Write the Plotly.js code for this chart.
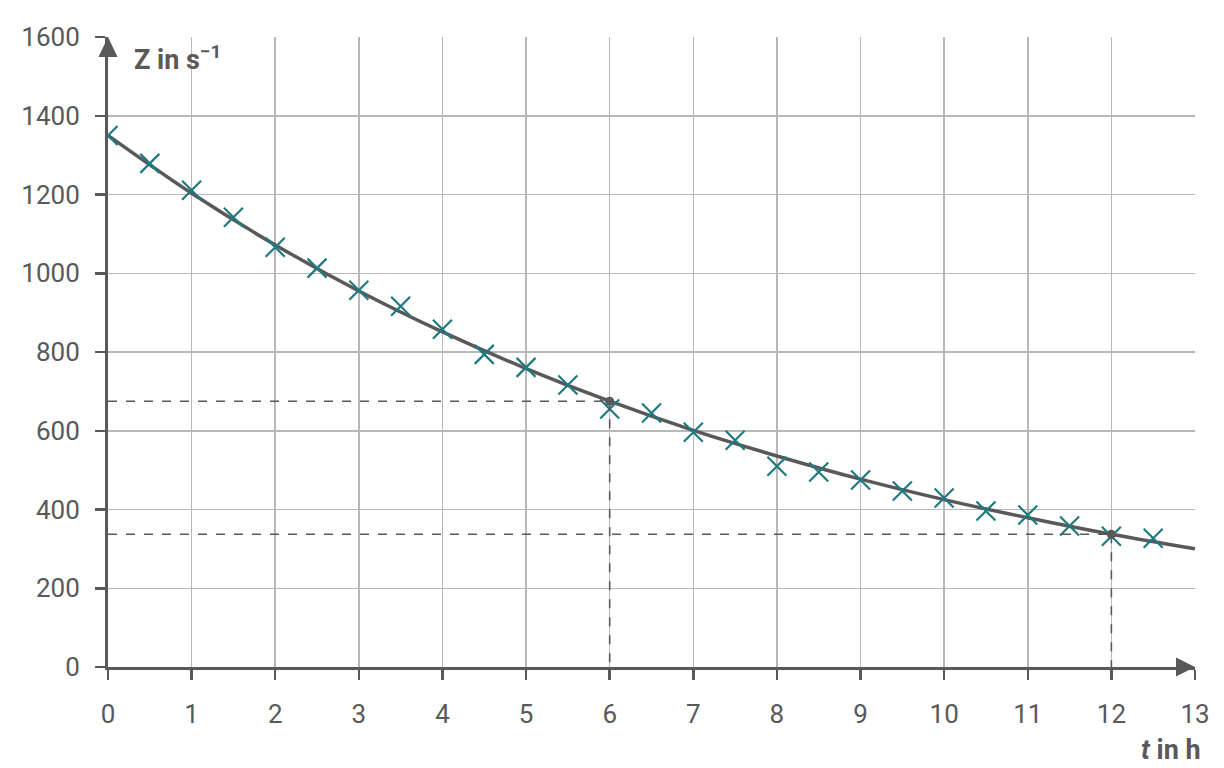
<!DOCTYPE html>
<html>
<head>
<meta charset="utf-8">
<script src="https://cdn.plot.ly/plotly-3.0.1.min.js"></script>
<style>
  html, body { margin: 0; padding: 0; background: #fff; }
  #chart { width: 1224px; height: 768px; }
</style>
</head>
<body>
<div id="chart"></div>
<script>
"use strict";

// measured counts (crosses)
const tMeas = [0, 0.5, 1, 1.5, 2, 2.5, 3, 3.5, 4, 4.5, 5, 5.5, 6, 6.5, 7, 7.5, 8, 8.5, 9, 9.5, 10, 10.5, 11, 11.5, 12, 12.5];
const zMeas = [1350, 1279, 1211, 1142, 1066, 1013, 957, 916, 858, 794, 761, 716, 655, 645, 596, 576, 510, 495, 475, 447, 429, 396, 386, 358, 332, 327];

const tCurve = [0, 1, 2, 3, 4, 5, 6, 7, 8, 9, 10, 11, 12, 13];
const zCurve = [1350, 1203, 1072, 955, 851, 758, 675, 601, 536, 477, 425, 379, 337, 300];

// marked half-life points
const tMark = [6, 12];
const zMark = [675, 337];

const xTicks = [0, 1, 2, 3, 4, 5, 6, 7, 8, 9, 10, 11, 12, 13];
const yTicks = [0, 200, 400, 600, 800, 1000, 1200, 1400, 1600];

const DARK = "#595959";
const GRID = "#b8b8b8";
const TEAL = "#1e7a80";
const FONT = "Roboto, 'Open Sans', sans-serif";

const PLOT_W = 1224 - 108 - 29;
const PLOT_H = 768 - 37 - 101;

const traces = [
  {
    type: "scatter",
    mode: "lines",
    x: tCurve,
    y: zCurve,
    line: { color: DARK, width: 3.5, shape: "spline", smoothing: 1 },
    hoverinfo: "skip",
  },
  {
    type: "scatter",
    mode: "markers",
    x: tMeas,
    y: zMeas,
    marker: { symbol: "x-thin", size: 19, line: { color: TEAL, width: 2.2 } },
  },
  {
    type: "scatter",
    mode: "markers",
    x: tMark,
    y: zMark,
    marker: { symbol: "circle", size: 9, color: DARK },
  },
];

// dashed helper lines from the half-life points to both axes
const shapes = [];
tMark.forEach((t, i) => {
  const dash = { color: DARK, width: 1.6, dash: "dash" };
  shapes.push({ type: "line", xref: "x", yref: "y", x0: 0, x1: t, y0: zMark[i], y1: zMark[i], line: dash, layer: "above" });
  shapes.push({ type: "line", xref: "x", yref: "y", x0: t, x1: t, y0: zMark[i], y1: 0, line: dash, layer: "above" });
});

// arrow heads at the axis ends (paper coords so they are not clipped)
const ax = 19 / PLOT_W, ay = 9.5 / PLOT_H;
const bx = 9.5 / PLOT_W, by = 20 / PLOT_H;
shapes.push({
  type: "path", xref: "paper", yref: "paper", layer: "above",
  path: `M ${1 - ax} ${-ay} L 1 0 L ${1 - ax} ${ay} Z`,
  fillcolor: DARK, line: { width: 0 },
});
shapes.push({
  type: "path", xref: "paper", yref: "paper", layer: "above",
  path: `M ${-bx} ${1 - by} L 0 1 L ${bx} ${1 - by} Z`,
  fillcolor: DARK, line: { width: 0 },
});

const axisBase = {
  showgrid: true,
  gridcolor: GRID,
  gridwidth: 1.5,
  zeroline: false,
  showline: true,
  linecolor: DARK,
  linewidth: 3,
  ticks: "outside",
  ticklen: 10,
  tickwidth: 2.5,
  tickcolor: DARK,
  tickfont: { size: 26, color: DARK },
};

const layout = {
  width: 1224,
  height: 768,
  paper_bgcolor: "#fff",
  plot_bgcolor: "#fff",
  showlegend: false,
  margin: { l: 108, r: 29, t: 37, b: 101 },
  font: { family: FONT, size: 26, color: DARK },
  xaxis: {
    ...axisBase,
    range: [xTicks[0], xTicks[xTicks.length - 1]],
    tickvals: xTicks,
    ticktext: xTicks.map(String),
    ticklabelstandoff: 12,
  },
  yaxis: {
    ...axisBase,
    range: [yTicks[0], yTicks[yTicks.length - 1]],
    tickvals: yTicks,
    ticktext: yTicks.map(String),
    ticklabelstandoff: 10,
  },
  shapes: shapes,
  annotations: [
    {
      xref: "paper", yref: "paper",
      x: 0.022, y: 0.967,
      xanchor: "left", yanchor: "middle",
      text: "<b>Z in s<sup>−1</sup></b>",
      showarrow: false,
      font: { size: 27, color: DARK },
    },
    {
      xref: "paper", yref: "paper",
      x: 1.0074, y: -0.132,
      xanchor: "right", yanchor: "middle",
      text: "<b><i>t</i> in h</b>",
      showarrow: false,
      font: { size: 27, color: DARK },
    },
  ],
};

Plotly.newPlot("chart", traces, layout, { displayModeBar: false, staticPlot: true });
</script>
</body>
</html>
